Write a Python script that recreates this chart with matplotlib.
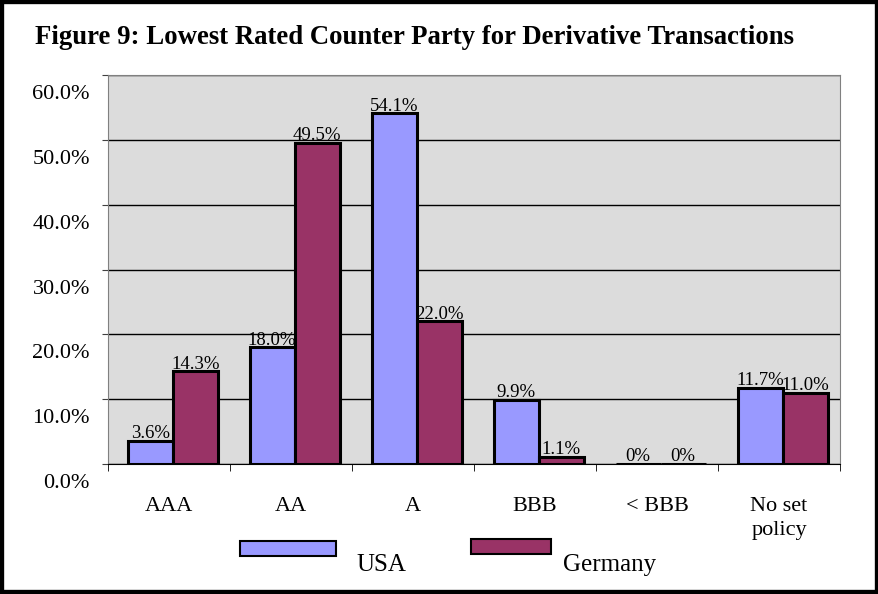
import matplotlib.pyplot as plt
import matplotlib.transforms as mtransforms
from matplotlib.patches import Rectangle
import numpy as np

categories = ['AAA', 'AA', 'A', 'BBB', '< BBB', 'No set\npolicy']
usa = [3.6, 18.0, 54.1, 9.9, 0.0, 11.7]
germany = [14.3, 49.5, 22.0, 1.1, 0.0, 11.0]
yticks = [0, 10, 20, 30, 40, 50, 60]

usa_color = '#9999FF'
ger_color = '#993366'
serif = 'Liberation Serif'

plt.rcParams['font.family'] = serif

fig = plt.figure(figsize=(8.79, 5.94), dpi=100)
ax = fig.add_axes([108 / 879, 1 - 464 / 594, 732 / 879, 389 / 594])
ax.set_facecolor('#DCDCDC')

x = np.arange(len(categories))
w = 0.37
off = 0.03
b1 = ax.bar(x - w / 2 + off, usa, width=w, color=usa_color, edgecolor='black', linewidth=2.2, zorder=3)
b2 = ax.bar(x + w / 2 + off, germany, width=w, color=ger_color, edgecolor='black', linewidth=2.2, zorder=3)

def fmt(v):
    return '0%' if v == 0 else '%.1f%%' % v

for bars, vals in [(b1, usa), (b2, germany)]:
    for b, v in zip(bars, vals):
        ax.text(b.get_x() + b.get_width() / 2, v - 0.2, fmt(v), ha='center', va='bottom',
                fontsize=13.5, family=serif, zorder=4)

ax.set_xlim(-0.5, len(categories) - 0.5)
ax.set_ylim(0, 60)
ax.set_yticks(yticks)
ax.set_yticklabels(['%.1f%%' % t for t in yticks], fontsize=16)
ax.yaxis.grid(True, color='black', linewidth=1)
ax.set_axisbelow(True)

ax.set_xticks(x)
ax.set_xticklabels(categories, fontsize=16, linespacing=1.3, va='top')
ax.tick_params(axis='x', length=0, pad=24)
ax.set_xticks(np.arange(len(categories) + 1) - 0.5, minor=True)
ax.tick_params(axis='x', which='minor', length=5, direction='out', color='black')
ax.tick_params(axis='y', length=4, direction='out', color='#404040', pad=9)

# shift y labels down like the original
shift = mtransforms.ScaledTranslation(0, -0.17, fig.dpi_scale_trans)
for lbl in ax.get_yticklabels():
    lbl.set_transform(lbl.get_transform() + shift)

for s in ['left', 'right', 'top']:
    ax.spines[s].set_color('#808080')
ax.spines['bottom'].set_color('black')

fig.text(35 / 879, 1 - 38 / 594, 'Figure 9: Lowest Rated Counter Party for Derivative Transactions',
         fontsize=19.3, fontweight='bold', family=serif, va='center', ha='left')

# legend
fig.patches.append(Rectangle((240 / 879, 1 - 556 / 594), 96 / 879, 15 / 594, transform=fig.transFigure,
                             facecolor=usa_color, edgecolor='black', linewidth=1.5))
fig.text(356 / 879, 1 - 565 / 594, 'USA', fontsize=18, family=serif, va='center')
fig.patches.append(Rectangle((471 / 879, 1 - 554 / 594), 80 / 879, 15 / 594, transform=fig.transFigure,
                             facecolor=ger_color, edgecolor='black', linewidth=1.5))
fig.text(563 / 879, 1 - 565 / 594, 'Germany', fontsize=18, family=serif, va='center')

fig.patches.append(Rectangle((0, 0), 1, 1, transform=fig.transFigure, fill=False,
                             edgecolor='black', linewidth=6))

fig.savefig('out.png', dpi=100)
